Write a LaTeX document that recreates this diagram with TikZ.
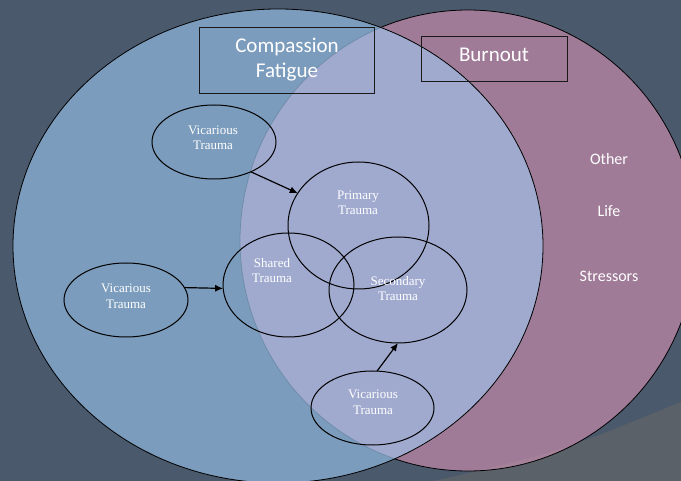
\documentclass[tikz,border=0pt]{standalone}
\usepackage{fontspec}
\setmainfont{Liberation Serif}
\newfontfamily\calib{Carlito}
\usetikzlibrary{shapes.geometric,arrows.meta}

\definecolor{bgc}{HTML}{4B596D}
\definecolor{wedgec}{HTML}{5B6169}
\definecolor{bluec}{HTML}{7B9CBC}
\definecolor{pinkc}{HTML}{9F7B97}
\definecolor{pinklt}{HTML}{A5829A}
\definecolor{overc}{HTML}{A0AACF}
\definecolor{faintc}{HTML}{6F8DAA}

\begin{document}
\begin{tikzpicture}[x=1pt,y=-1pt,
  oval/.style={ellipse,draw=black,line width=1pt,inner sep=0pt,outer sep=0pt},
  ttext/.style={text=white,align=center,font=\fontsize{13}{15.5}\selectfont,inner sep=0pt},
  ctext/.style={text=white,align=center,font=\calib\fontsize{21}{25}\selectfont,inner sep=0pt},
  stext/.style={text=white,font=\calib\fontsize{16}{19}\selectfont,inner sep=0pt},
  labelbox/.style={draw=black!90,line width=1pt,inner sep=0pt,outer sep=0pt},
  arr/.style={-{Latex[length=8pt,width=7pt]},line width=1.2pt}]

\fill[bgc] (0,0) rectangle (681,481);
\useasboundingbox (0,0) rectangle (681,481);
\fill[wedgec] (434,481) .. controls (557.5,452.5) .. (681,402) -- (681,481) -- cycle;

% Burnout circle
\fill[pinkc] (468,240.5) ellipse [x radius=228, y radius=230.5];
\begin{scope}
  \clip (468,240.5) ellipse [x radius=228, y radius=230.5];
  \fill[pinklt] (434,481) .. controls (557.5,452.5) .. (681,402) -- (681,481) -- cycle;
\end{scope}
\draw[line width=0.8pt] (468,240.5) ellipse [x radius=228, y radius=230.5];

% Compassion fatigue circle
\fill[bluec] (278,246) ellipse [x radius=265, y radius=237];
\begin{scope}
  \clip (278,246) ellipse [x radius=265, y radius=237];
  \fill[overc] (468,240.5) ellipse [x radius=228, y radius=230.5];
  \draw[faintc, line width=0.8pt] (468,240.5) ellipse [x radius=228, y radius=230.5];
\end{scope}
\draw[line width=0.8pt] (278,246) ellipse [x radius=265, y radius=237];

% label boxes
\node[labelbox, minimum width=175pt, minimum height=66pt] (cfbox) at (286.5,61) {};
\node[ctext] (cftext) at (287,60) {Compassion\\Fatigue};
\node[labelbox, minimum width=146pt, minimum height=45pt] (bobox) at (494,59.5) {};
\node[ctext] (botext) at (494,55) {Burnout};

% other life stressors
\node[stext] (other) at (609,159) {Other};
\node[stext] (life) at (609,211) {Life};
\node[stext] (stress) at (609,276) {Stressors};

% trauma ellipses
\node[oval, minimum width=124pt, minimum height=74pt] (v1) at (214,142) {};
\node[oval, minimum width=124pt, minimum height=74pt] (v2) at (126,300) {};
\node[oval, minimum width=123pt, minimum height=74pt] (v3) at (372.5,408) {};
\node[oval, minimum width=141pt, minimum height=127pt] (prim) at (358.5,225.5) {};
\node[oval, minimum width=131pt, minimum height=104pt] (shared) at (288.5,285) {};
\node[oval, minimum width=138pt, minimum height=106pt] (sec) at (398,290) {};

\node[ttext] (v1t) at (213,138) {Vicarious\\Trauma};
\node[ttext] (v2t) at (126,296.5) {Vicarious\\Trauma};
\node[ttext] (v3t) at (373,402.5) {Vicarious\\Trauma};
\node[ttext] (primt) at (358,203) {Primary\\Trauma};
\node[ttext] (sharedt) at (272,270.5) {Shared\\Trauma};
\node[ttext] (sect) at (398,288.5) {Secondary\\Trauma};

% arrows
\draw[arr] (v1.-39) -- (prim.152);
\draw[arr] (v2.12) -- (shared.183);
\draw[arr] (v3.83) -- (sec.-90);
\end{tikzpicture}
\end{document}
